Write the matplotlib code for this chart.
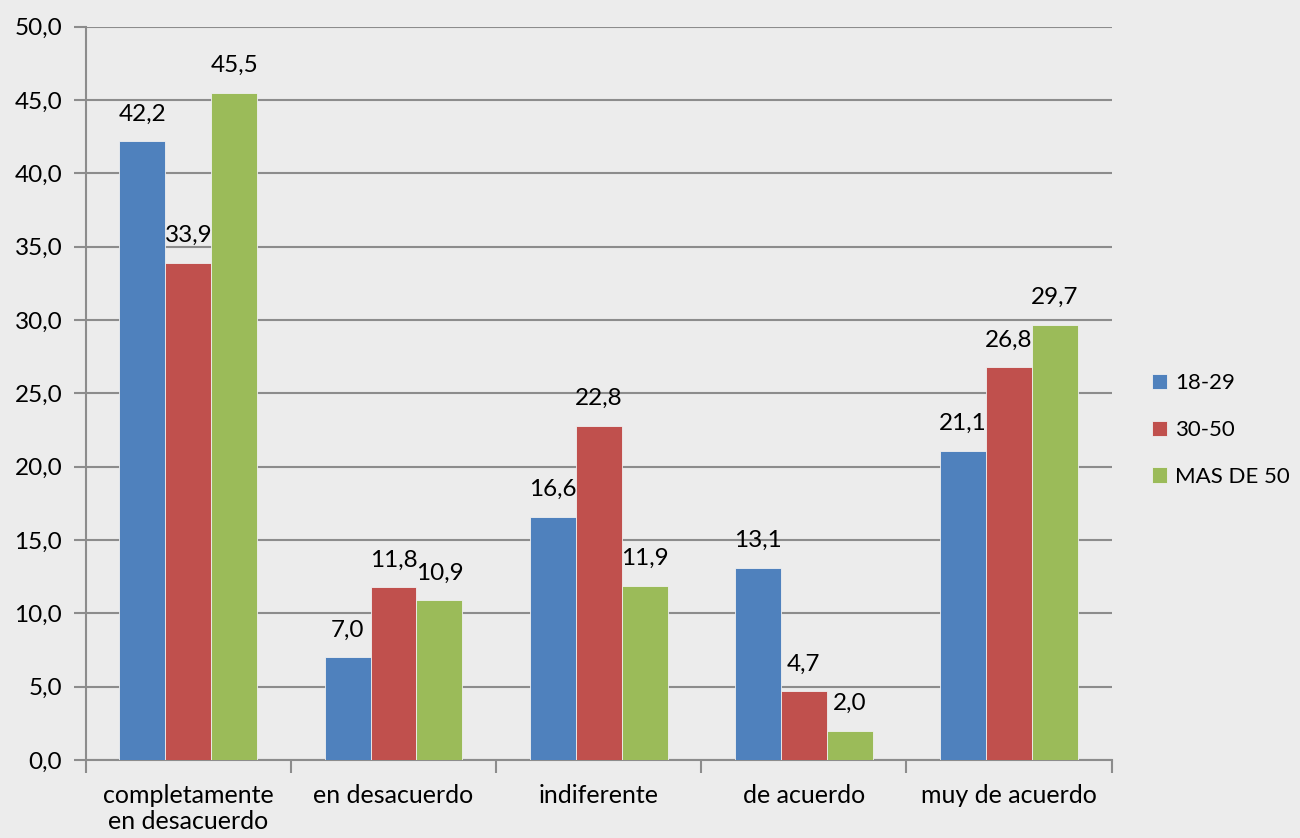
import numpy as np
import matplotlib
matplotlib.use("Agg")
import matplotlib.pyplot as plt
from matplotlib.ticker import FuncFormatter, FixedLocator

plt.rcParams['font.family'] = ['Lato', 'DejaVu Sans']

# data
categories = ['completamente\nen desacuerdo', 'en desacuerdo', 'indiferente',
              'de acuerdo', 'muy de acuerdo']
series_names = ['18-29', '30-50', 'MAS DE 50']
vals_18_29 = [42.2, 7.0, 16.6, 13.1, 21.1]
vals_30_50 = [33.9, 11.8, 22.8, 4.7, 26.8]
vals_mas_50 = [45.5, 10.9, 11.9, 2.0, 29.7]
colors = ['#4f81bd', '#c0504d', '#9bbb59']

fig = plt.figure(figsize=(13, 8.38), dpi=100, facecolor='#ececec')
ax = fig.add_axes([0.066, 0.093, 0.789, 0.875])
ax.set_facecolor('none')

x = np.arange(len(categories))
w = 0.224
for i, (vals, name, c) in enumerate(zip([vals_18_29, vals_30_50, vals_mas_50],
                                        series_names, colors)):
    pos = x + (i - 1) * w
    bars = ax.bar(pos, vals, width=w, color=c, label=name,
                  edgecolor='#f0f0f0', linewidth=0.6, zorder=3)
    for b, v in zip(bars, vals):
        ax.annotate(f'{v:.1f}'.replace('.', ','),
                    (b.get_x() + b.get_width() / 2, v),
                    xytext=(0, 12), textcoords='offset points',
                    ha='center', va='bottom', fontsize=17.5, zorder=4)

ax.set_xlim(-0.5, len(categories) - 0.5)
ax.set_ylim(0, 50)
ax.set_yticks(np.arange(0, 50.1, 5))
ax.yaxis.set_major_formatter(FuncFormatter(lambda v, p: f'{v:.1f}'.replace('.', ',')))
ax.grid(axis='y', color='#8c8c8c', linewidth=1.5, zorder=1)

# category labels between boundary ticks
ax.xaxis.set_major_locator(FixedLocator(np.arange(-0.5, len(categories), 1)))
ax.xaxis.set_minor_locator(FixedLocator(x))
ax.set_xticklabels([])
ax.set_xticklabels(categories, minor=True)
ax.tick_params(axis='x', which='major', length=9, width=1.5, color='#8c8c8c')
ax.tick_params(axis='x', which='minor', length=0, pad=17, labelsize=18)
ax.tick_params(axis='y', length=9, width=1.5, color='#8c8c8c', labelsize=17.5, pad=8)

for s in ['top', 'right']:
    ax.spines[s].set_visible(False)
for s in ['left', 'bottom']:
    ax.spines[s].set_color('#8c8c8c')
    ax.spines[s].set_linewidth(1.5)

ax.legend(loc='center left', bbox_to_anchor=(1.024, 0.45), frameon=False,
          fontsize=16, handlelength=0.7, handleheight=0.7, labelspacing=1.2,
          handletextpad=0.35, borderaxespad=0.3)

fig.savefig('out.png', dpi=100, facecolor=fig.get_facecolor())
